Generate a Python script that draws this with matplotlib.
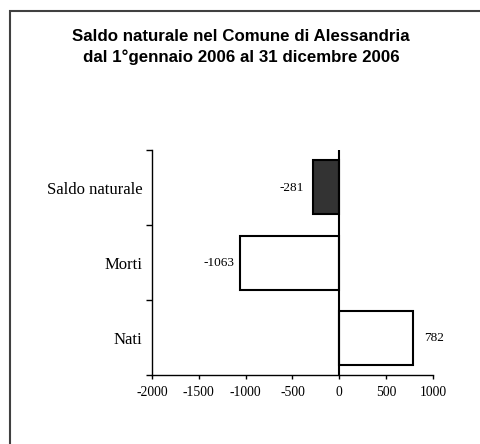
import matplotlib.pyplot as plt
from matplotlib.patches import Rectangle

# dati
categorie = ['Nati', 'Morti', 'Saldo naturale']
valori = [782, -1063, -281]
colori = ['white', 'white', '#333333']
xticks = [-2000, -1500, -1000, -500, 0, 500, 1000]

fig = plt.figure(figsize=(4.81, 4.44), dpi=100)
ax = fig.add_axes([152 / 481, 1 - 375 / 444, 281 / 481, 225 / 444])

pos = list(range(len(categorie)))
ax.barh(pos, valori, height=0.72, color=colori, edgecolor='black', linewidth=1.5, zorder=2)
ax.axvline(0, color='black', linewidth=1.5, zorder=3)

for p, v in zip(pos, valori):
    if v < 0:
        ax.text(v - (100 if v > -500 else 55), p, str(v), ha='right', va='center',
                fontsize=9.5, family='Liberation Serif')
    else:
        ax.text(v + 120, p, str(v), ha='left', va='center',
                fontsize=9.5, family='Liberation Serif')

ax.set_xlim(-2000, 1000)
ax.set_ylim(-0.5, 2.5)
ax.set_xticks(xticks)
ax.set_xticklabels([str(t) for t in xticks], family='Liberation Serif', fontsize=9.8)
ax.set_yticks(pos)
ax.set_yticklabels(categorie, family='Liberation Serif', fontsize=12)
ax.set_yticks([-0.5, 0.5, 1.5, 2.5], minor=True)
ax.tick_params(axis='y', which='major', length=0, pad=7)
ax.tick_params(axis='y', which='minor', length=4, width=1, direction='out')
ax.tick_params(axis='x', length=3, width=1, direction='out', pad=5)
for s in ['top', 'right']:
    ax.spines[s].set_visible(False)
for s in ['left', 'bottom']:
    ax.spines[s].set_linewidth(1)

fig.text(241 / 481, 1 - 36 / 444, 'Saldo naturale nel Comune di Alessandria',
         ha='center', va='center', fontsize=12.2, fontweight='bold', family='Liberation Sans')
fig.text(241 / 481, 1 - 57 / 444, 'dal 1°gennaio 2006 al 31 dicembre 2006',
         ha='center', va='center', fontsize=12.2, fontweight='bold', family='Liberation Sans')

# cornice
fig.patches.append(Rectangle((10 / 481, -0.1), 1.2, 1 - 11 / 444 + 0.1, transform=fig.transFigure,
                             fill=False, edgecolor='#404040', linewidth=1.5))

fig.savefig('out.png', dpi=100)
